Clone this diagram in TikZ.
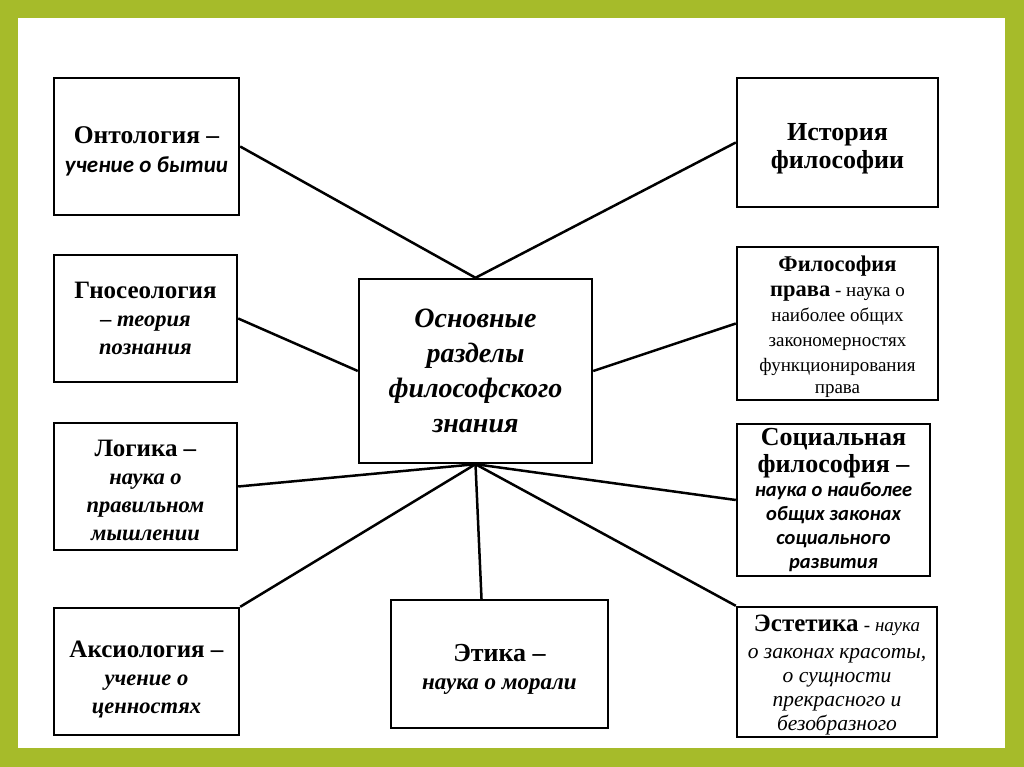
\documentclass[tikz,border=0pt]{standalone}
\usepackage{fontspec}
\setmainfont{Liberation Serif}
\newfontfamily\calibri{Carlito}
\usetikzlibrary{calc}
\definecolor{slidegreen}{RGB}{166,187,42}
% extra room above the first line of a box
\newcommand{\toppad}[1]{\rule{0pt}{#1}}
% italic second lines of the left boxes
\newcommand{\subln}[1]{{\fontsize{22.5}{28}\selectfont\itshape #1}}

\begin{document}
\begin{tikzpicture}[
    x=1pt, y=1pt,
    topic/.style={rectangle, draw, line width=2.4pt, inner sep=0pt, align=center,
                  fill=white, font=\fontsize{25}{28}\selectfont\bfseries},
    link/.style={line width=2.5pt}
]

%% ── Slide frame ──────────────────────────────────────────────────
\fill[slidegreen] (0,0) rectangle (1024,-767);
\fill[white] (18,-18) rectangle (1005,-748);
\useasboundingbox (0,0) rectangle (1024,-767);

%% ── Centre ───────────────────────────────────────────────────────
\node[topic, minimum width=233pt, minimum height=184pt,
      font=\fontsize{28}{35}\selectfont\bfseries\itshape] (core) at (475.5,-371)
    {Основные\\разделы\\философского\\знания};

%% ── Left column ──────────────────────────────────────────────────
\node[topic, minimum width=185pt, minimum height=137pt,
      font=\fontsize{25.5}{29}\selectfont\bfseries] (onto) at (146.5,-146.5)
    {\toppad{26pt}Онтология –\\{\calibri\fontsize{23}{28}\selectfont\itshape учение о бытии}};
\node[topic, minimum width=183pt, minimum height=127pt] (gnoseo) at (145.5,-318.5)
    {Гносеология\\\subln{– теория}\\\subln{познания}};
\node[topic, minimum width=183pt, minimum height=127pt] (logic) at (145.5,-486.5)
    {\toppad{25pt}Логика –\\\subln{наука о}\\\subln{правильном}\\\subln{мышлении}};
\node[topic, minimum width=185pt, minimum height=127pt] (axio) at (146.5,-671.5)
    {\toppad{32pt}Аксиология –\\\subln{учение о}\\\subln{ценностях}};

%% ── Bottom ───────────────────────────────────────────────────────
\node[topic, minimum width=217pt, minimum height=128pt,
      font=\fontsize{26}{28}\selectfont\bfseries] (ethics) at (499.5,-664)
    {\toppad{28pt}Этика –\\{\fontsize{23}{28}\selectfont\itshape наука о морали}};

%% ── Right column ─────────────────────────────────────────────────
\node[topic, minimum width=201pt, minimum height=129pt,
      font=\fontsize{26}{28.5}\selectfont\bfseries] (hist) at (837.5,-142.5)
    {\toppad{30pt}История\\философии};
\node[topic, minimum width=201pt, minimum height=153pt,
      font=\fontsize{19}{25}\selectfont] (lawphil) at (837.5,-323.5)
    {\toppad{22pt}{\fontsize{22.5}{26}\selectfont\bfseries Философия}\\
     {\fontsize{22.5}{26}\selectfont\bfseries права} - наука о\\
     наиболее общих\\закономерностях\\функционирования\\[-3pt]права};
\node[topic, minimum width=193pt, minimum height=152pt,
      font=\fontsize{26}{24}\selectfont\bfseries] (socphil) at (833.5,-500)
    {Социальная\\[3pt]философия –\\
     {\calibri\fontsize{20.5}{24}\selectfont\itshape наука о наиболее}\\
     {\calibri\fontsize{20.5}{24}\selectfont\itshape общих законах}\\
     {\calibri\fontsize{20.5}{24}\selectfont\itshape социального}\\
     {\calibri\fontsize{20.5}{24}\selectfont\itshape развития}};
\node[topic, minimum width=200pt, minimum height=130pt,
      font=\fontsize{21.5}{24}\selectfont\itshape] (aesth) at (837,-672)
    {\toppad{23pt}{\fontsize{25}{25}\selectfont\bfseries\upshape Эстетика} {\fontsize{19}{25}\selectfont - наука}\\[3pt]
     о законах красоты,\\о сущности\\прекрасного и\\безобразного};

%% ── Connectors ───────────────────────────────────────────────────
\draw[link] (onto.east)   -- (core.north);
\draw[link] (hist.west)   -- (core.north);
\draw[link] (gnoseo.east) -- (core.west);
\draw[link] (lawphil.west)-- (core.east);
\draw[link] (logic.east)  -- (core.south);
\draw[link] (axio.north east) -- (core.south);
\draw[link] (core.south)  -- ($(ethics.north)+(-18,0)$);
\draw[link] (socphil.west) -- (core.south);
\draw[link] (aesth.north west) -- (core.south);

\end{tikzpicture}
\end{document}
